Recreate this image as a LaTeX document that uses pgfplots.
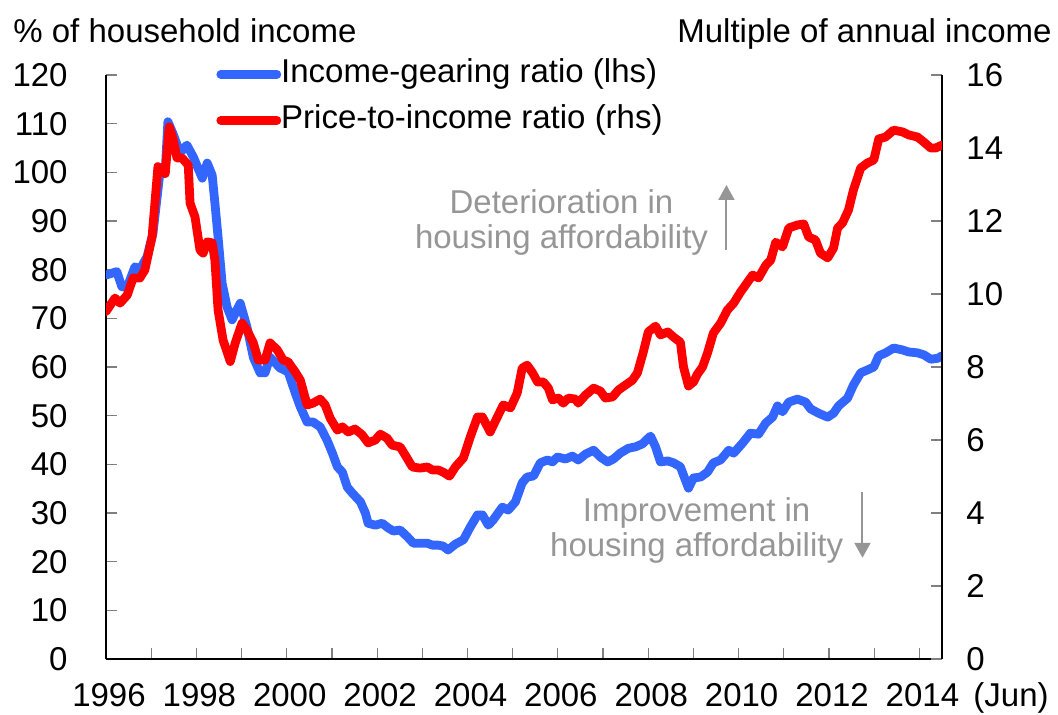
\documentclass[border=0pt]{standalone}
\usepackage{fontspec}
\setmainfont{Liberation Sans}
\usepackage{pgfplots}
\pgfplotsset{compat=1.18}
\usetikzlibrary{arrows.meta}
\definecolor{gearblue}{RGB}{51,102,255}
\definecolor{pricered}{RGB}{255,0,0}
\definecolor{notegray}{RGB}{150,150,150}
\definecolor{tickgray}{RGB}{128,128,128}

\pgfplotsset{
  hkbase/.style={
    scale only axis, width=418pt, height=292pt,
    xmin=1996, xmax=2014.5,
    tick align=inside, major tick length=5.5pt, minor tick length=5.5pt,
    tick style={tickgray, line width=0.6pt},
    axis line style={-, black, line width=0.8pt},
    /pgf/number format/assume math mode=true,
    /pgf/number format/1000 sep={},
    ticklabel style={font=\fontsize{16.5}{18}\selectfont, inner sep=0pt},
  },
}

\begin{document}
\begin{tikzpicture}[font=\fontsize{16.5}{17.5}\selectfont]
\begin{axis}[hkbase, name=ax,
  ymin=0, ymax=120, ytick={0,10,...,120},
  axis x line*=bottom, axis y line*=left,
  xtick={1996,1998,...,2014}, minor xtick={1997,1999,...,2013},
  xticklabel style={anchor=base, yshift=-23.5pt, xshift=1.5pt},
  yticklabel style={anchor=east, xshift=-19pt},
  legend style={at={(0.1316,1)}, anchor=north west, yshift=8pt,
    draw=none, fill=none, inner sep=0pt, row sep=8pt,
    nodes={inner sep=0pt, text height=11.5pt, text depth=3.5pt},
    font=\fontsize{16.5}{18}\selectfont},
  legend cell align=left,
  legend image code/.code={\draw[#1, line cap=round] (0pt,0pt) -- (28pt,0pt);},
]
\addplot[gearblue, line width=4.4pt, line join=round, line cap=round] coordinates {
(1996.00,78.9)(1996.24,79.6)(1996.35,76.5)(1996.47,76.4)(1996.64,80.6)(1996.75,80.0)
(1996.91,82.7)(1997.04,87.5)(1997.20,100.5)(1997.31,100.0)(1997.37,110.4)(1997.48,108.0)
(1997.64,104.0)(1997.79,105.6)(1997.93,103.2)(1998.13,98.8)(1998.24,101.9)(1998.35,99.4)
(1998.41,93.7)(1998.48,86.7)(1998.57,77.2)(1998.68,72.3)(1998.79,69.7)(1998.97,73.1)
(1999.12,68.2)(1999.26,62.0)(1999.41,58.8)(1999.52,58.8)(1999.63,62.0)(1999.85,59.8)
(2000.03,59.0)(2000.19,54.6)(2000.30,51.8)(2000.45,48.7)(2000.58,48.7)(2000.74,47.7)
(2000.89,45.0)(2001.01,42.3)(2001.12,39.5)(2001.23,38.4)(2001.34,35.3)(2001.45,34.1)
(2001.63,32.3)(2001.74,30.0)(2001.80,27.9)(2001.96,27.5)(2002.11,27.9)(2002.25,26.9)
(2002.36,26.3)(2002.51,26.5)(2002.67,25.1)(2002.80,23.8)(2002.95,23.8)(2003.11,23.8)
(2003.22,23.4)(2003.35,23.4)(2003.46,23.2)(2003.57,22.4)(2003.73,23.6)(2003.91,24.5)
(2004.06,27.1)(2004.22,29.6)(2004.33,29.6)(2004.46,27.5)(2004.57,28.6)(2004.77,31.2)
(2004.90,30.6)(2005.06,32.3)(2005.21,36.2)(2005.32,37.4)(2005.46,37.6)(2005.61,40.3)
(2005.77,40.9)(2005.88,40.5)(2005.99,41.5)(2006.17,41.1)(2006.32,41.7)(2006.45,40.9)
(2006.61,42.1)(2006.79,42.9)(2006.94,41.5)(2007.10,40.5)(2007.23,41.1)(2007.38,42.3)
(2007.56,43.3)(2007.72,43.6)(2007.87,44.2)(2007.98,45.2)(2008.05,45.8)(2008.16,43.6)
(2008.27,40.5)(2008.43,40.7)(2008.56,40.3)(2008.71,39.5)(2008.82,36.8)(2008.89,35.1)
(2009.00,37.2)(2009.16,37.4)(2009.31,38.4)(2009.44,40.3)(2009.60,40.9)(2009.78,42.9)
(2009.89,42.3)(2010.09,44.4)(2010.26,46.4)(2010.44,46.2)(2010.60,48.5)(2010.75,49.7)
(2010.86,52.0)(2010.97,50.8)(2011.11,52.8)(2011.30,53.4)(2011.48,52.8)(2011.59,51.4)
(2011.77,50.5)(2011.97,49.7)(2012.10,50.5)(2012.21,52.0)(2012.41,53.6)(2012.54,56.3)
(2012.70,58.8)(2012.85,59.4)(2012.99,60.0)(2013.10,62.3)(2013.25,62.9)(2013.43,63.9)
(2013.63,63.5)(2013.76,63.1)(2013.96,62.9)(2014.10,62.5)(2014.25,61.6)(2014.41,61.8)
(2014.50,62.3)};
\addlegendentry{Income-gearing ratio (lhs)}
\addlegendimage{pricered, line width=4.4pt}
\addlegendentry{Price-to-income ratio (rhs)}

% annotations
\node[notegray, align=center, inner sep=0pt] at (axis cs:2006.08,89.6)
  {Deterioration in\\housing affordability};
\draw[notegray, line width=1pt, -{Triangle[width=8pt,length=7.5pt]}]
  (axis cs:2009.73,84.0) -- (axis cs:2009.73,97.4);
\node[notegray, align=center, inner sep=0pt] at (axis cs:2009.07,26.5)
  {Improvement in\\housing affordability};
\draw[notegray, line width=1pt, -{Triangle[width=8pt,length=7.5pt]}]
  (axis cs:2012.74,34.3) -- (axis cs:2012.74,20.8);
\end{axis}

\begin{axis}[hkbase,
  ymin=0, ymax=16, ytick={0,2,...,16},
  axis x line=none, axis y line*=right,
  yticklabel style={anchor=west, xshift=12pt},
]
\addplot[pricered, line width=4.4pt, line join=round, line cap=round] coordinates {
(1996.00,9.52)(1996.20,9.89)(1996.31,9.75)(1996.47,9.97)(1996.60,10.44)(1996.75,10.44)
(1996.86,10.66)(1997.02,11.57)(1997.15,13.49)(1997.31,13.30)(1997.40,14.58)(1997.48,14.27)
(1997.57,13.73)(1997.68,13.73)(1997.82,13.53)(1997.86,12.49)(1997.97,12.11)(1998.08,11.20)
(1998.15,11.12)(1998.24,11.43)(1998.35,11.40)(1998.41,10.93)(1998.48,9.56)(1998.59,8.74)
(1998.75,8.15)(1998.86,8.66)(1999.01,9.20)(1999.12,9.01)(1999.26,8.66)(1999.37,8.19)
(1999.52,8.19)(1999.63,8.66)(1999.79,8.47)(1999.92,8.19)(2000.03,8.14)(2000.19,7.86)
(2000.30,7.64)(2000.45,6.96)(2000.58,7.01)(2000.74,7.12)(2000.85,6.96)(2000.96,6.60)
(2001.12,6.27)(2001.23,6.36)(2001.36,6.22)(2001.51,6.30)(2001.67,6.14)(2001.80,5.92)
(2001.96,6.00)(2002.07,6.16)(2002.22,6.05)(2002.33,5.86)(2002.51,5.81)(2002.62,5.59)
(2002.78,5.26)(2002.95,5.23)(2003.11,5.26)(2003.22,5.18)(2003.35,5.18)(2003.46,5.12)
(2003.60,5.01)(2003.73,5.26)(2003.91,5.51)(2004.06,6.08)(2004.22,6.63)(2004.33,6.63)
(2004.50,6.22)(2004.66,6.63)(2004.79,6.96)(2004.95,6.88)(2005.10,7.29)(2005.21,7.97)
(2005.32,8.05)(2005.44,7.84)(2005.55,7.59)(2005.68,7.59)(2005.79,7.42)(2005.88,7.10)
(2006.01,7.15)(2006.12,7.01)(2006.23,7.15)(2006.39,7.12)(2006.45,7.01)(2006.61,7.23)
(2006.79,7.42)(2006.94,7.34)(2007.05,7.15)(2007.21,7.18)(2007.34,7.37)(2007.50,7.51)
(2007.65,7.64)(2007.76,7.84)(2007.89,8.41)(2008.00,8.96)(2008.16,9.12)(2008.27,8.88)
(2008.43,8.96)(2008.56,8.82)(2008.71,8.68)(2008.78,8.00)(2008.89,7.48)(2009.00,7.59)
(2009.09,7.81)(2009.20,8.00)(2009.31,8.38)(2009.44,8.93)(2009.60,9.20)(2009.75,9.56)
(2009.89,9.75)(2010.04,10.05)(2010.20,10.33)(2010.31,10.52)(2010.44,10.44)(2010.60,10.79)
(2010.71,10.93)(2010.82,11.42)(2010.97,11.29)(2011.11,11.81)(2011.30,11.89)(2011.44,11.92)
(2011.55,11.56)(2011.70,11.48)(2011.81,11.12)(2011.97,10.99)(2012.10,11.26)(2012.19,11.81)
(2012.30,11.95)(2012.43,12.30)(2012.54,12.85)(2012.70,13.45)(2012.85,13.59)(2012.99,13.67)
(2013.10,14.25)(2013.25,14.30)(2013.43,14.49)(2013.63,14.44)(2013.76,14.36)(2013.96,14.30)
(2014.10,14.16)(2014.25,14.00)(2014.36,14.00)(2014.50,14.08)};
\end{axis}

\node[anchor=base west, inner sep=0pt] at ([shift={(-46.5pt,308.5pt)}]ax.south west)
  {\% of household income};
\node[anchor=base east, inner sep=0pt] at ([shift={(473pt,308.5pt)}]ax.south west)
  {Multiple of annual income};
\node[anchor=base west, inner sep=0pt] at ([shift={(433.5pt,-23.5pt)}]ax.south west)
  {(Jun)};

\pgfresetboundingbox
\path[use as bounding box] ([shift={(-53pt,-27.5pt)}]ax.south west)
  rectangle ([shift={(476pt,329.5pt)}]ax.south west);
\end{tikzpicture}
\end{document}
